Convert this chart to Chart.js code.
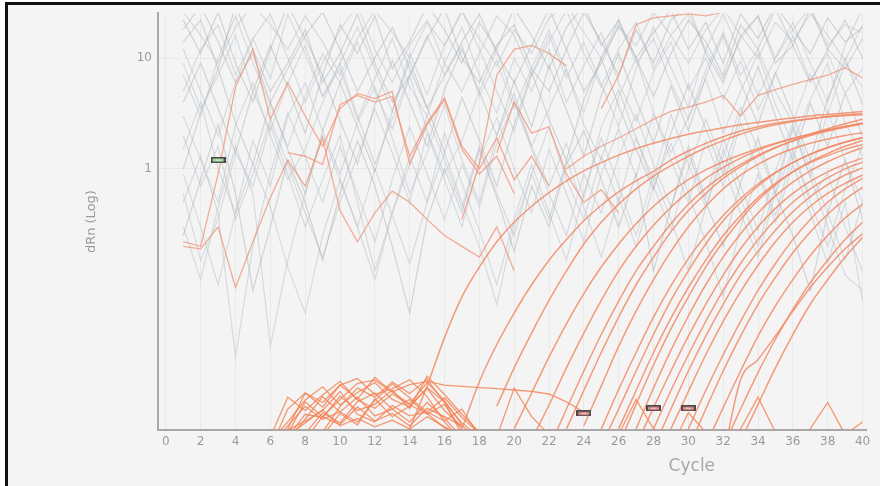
<!DOCTYPE html>
<html>
<head>
<meta charset="utf-8">
<title>Amplification plot</title>
<script src="https://cdn.jsdelivr.net/npm/chart.js@4.4.1/dist/chart.umd.min.js"></script>
<style>
  body { margin: 0; background: #fff; overflow: hidden; }
  #frame {
    position: absolute; left: 5px; top: 2px; width: 900px; height: 520px;
    border-left: 3px solid #111; border-top: 3px solid #111; background: #f4f4f4;
  }
  #plot { position: absolute; left: 0; top: 0; }
</style>
</head>
<body>
<div id="frame"></div>
<canvas id="plot" width="880" height="486"></canvas>
<script>
// tick labels
const xTicks = [0, 2, 4, 6, 8, 10, 12, 14, 16, 18, 20, 22, 24, 26, 28, 30, 32, 34, 36, 38, 40];
const yTicks = [1, 10];

// grey wells (no amplification), one value per cycle 1..40
const gray01 = [14, 22, 8, 30, 12, 5, 9, 18, 6, 11, 25, 9, 4, 7, 15, 28, 10, 6, 13, 20, 8, 5, 12, 26, 14, 7, 18, 9, 22, 30, 11, 6, 16, 24, 9, 13, 28, 12, 8, 15];
const gray02 = [3, 1.2, 0.5, 2.5, 6, 2, 0.8, 1.5, 4, 9, 3, 1.1, 2.8, 7, 2.2, 0.9, 1.8, 5, 12, 4, 1.6, 3.5, 8, 2.5, 1.2, 4.5, 10, 3.2, 1.4, 2.9, 6.5, 2.1, 5, 11, 3.8, 1.7, 4.2, 9, 2.6, 1.3];
const gray03 = [0.6, 0.15, 0.35, 1.4, 0.7, 2.5, 0.9, 0.3, 0.8, 2, 0.5, 0.12, 0.4, 1.1, 3, 1.2, 0.45, 1.6, 0.6, 0.25, 0.9, 2.4, 0.8, 0.35, 1.3, 0.5, 1.9, 0.7, 0.28, 1, 2.8, 1.1, 0.4, 0.16, 0.6, 1.5, 0.55, 0.9, 0.3, 0.12];
const gray04 = [22, 11, 26, 9, 4, 12, 30, 15, 7, 20, 11, 24, 8, 14, 30, 18, 9, 21, 12, 28, 16, 8, 19, 30, 13, 22, 10, 17, 27, 12, 21, 9, 25, 15, 30, 18, 11, 23, 14, 19];
const gray05 = [1.5, 4, 1, 0.4, 1.8, 0.7, 3, 6, 2.2, 0.9, 2.6, 5.5, 1.9, 0.6, 1.4, 3.8, 1.2, 0.5, 2, 4.8, 1.6, 0.7, 1.7, 0.55, 2.4, 5.2, 1.9, 0.8, 3.1, 1.1, 0.45, 1.3, 3.6, 1.5, 0.6, 2.3, 0.85, 3.3, 1.2, 0.5];
const gray06 = [9, 3.5, 7, 16, 5, 2.2, 6, 13, 4.5, 8, 2.8, 6.5, 15, 5.5, 3, 9, 19, 7, 3.2, 10, 5, 12, 4, 8.5, 17, 6, 2.7, 7.5, 14, 5.2, 10, 4.2, 9.5, 3.4, 7.2, 16, 6.3, 11, 4.8, 8];
const gray07 = [0.25, 0.8, 2.5, 0.6, 0.08, 0.3, 1.2, 0.5, 0.15, 0.6, 1.8, 0.7, 0.2, 0.05, 0.35, 1, 0.4, 1.5, 0.55, 0.18, 0.7, 0.3, 1.1, 2.2, 0.8, 0.3, 0.9, 0.12, 0.45, 1.4, 0.5, 0.2, 0.75, 1.9, 0.6, 0.25, 0.08, 0.4, 1.2, 0.35];
const gray08 = [5, 12, 20, 7, 15, 25, 10, 4, 9, 18, 30, 12, 6, 13, 22, 9, 5, 11, 24, 16, 7, 14, 27, 11, 5.5, 12, 21, 8, 16, 25, 12, 6.5, 15, 24, 10, 18, 29, 13, 20, 17];
const gray09 = [2, 0.7, 1.6, 0.35, 0.9, 2.8, 1.1, 0.4, 0.16, 0.5, 1.3, 3.5, 1.4, 0.5, 2.1, 0.8, 0.3, 1.2, 2.9, 1, 0.4, 1.5, 0.6, 0.22, 0.9, 2.3, 0.85, 3.2, 1.2, 0.5, 1.8, 0.7, 2.6, 1, 0.38, 1.4, 0.5, 0.2, 0.65, 1.6];
const gray10 = [18, 30, 14, 6, 11, 4, 8, 16, 26, 12, 5, 10, 19, 8, 3.5, 7, 14, 25, 11, 6, 13, 28, 12, 5, 9, 20, 10, 4.5, 11, 22, 14, 7, 20, 12, 28, 13, 6, 12, 22, 10];
const gray11 = [0.5, 1.3, 0.4, 0.02, 0.2, 0.9, 3.2, 1.3, 0.5, 1.6, 0.6, 0.22, 0.8, 2.4, 0.9, 0.35, 1.1, 0.45, 1.7, 4, 1.5, 0.6, 0.25, 0.9, 0.4, 1.3, 3.1, 1.1, 0.45, 1.6, 0.55, 1.9, 0.7, 0.28, 0.95, 2.6, 1, 0.4, 0.15, 0.5];
const gray12 = [7, 3, 10, 24, 9, 3.8, 1.6, 4.5, 11, 6, 14, 5, 2.3, 6.8, 16, 7, 13, 4.5, 9.5, 3.5, 8, 18, 7.5, 3.2, 10, 22, 9, 15, 6, 2.8, 7.8, 17, 7, 12, 5, 2.6, 7.2, 3.1, 9, 5.5];
const gray13 = [1, 3.2, 8, 2.6, 1.1, 4, 1.5, 0.6, 2.2, 6, 2.4, 0.95, 3.3, 9.5, 3.6, 1.4, 4.4, 1.8, 0.7, 2.5, 7.5, 2.8, 1.2, 4.2, 10, 3.7, 1.5, 0.65, 2.1, 5.8, 2.3, 0.9, 3.1, 8.4, 3, 1.2, 3.9, 1.6, 4.8, 2];
const gray14 = [26, 16, 9, 19, 30, 20, 12, 24, 14, 7, 15, 27, 17, 10, 21, 13, 26, 15, 8.5, 18, 11, 23, 30, 17, 10, 19, 13, 26, 16, 9, 18, 28, 16, 10, 21, 14, 25, 16, 9.5, 20];
const gray15 = [0.9, 0.3, 0.09, 0.4, 1.1, 0.45, 0.13, 0.05, 0.25, 0.8, 0.3, 1, 0.38, 0.14, 0.5, 1.4, 0.5, 0.2, 0.06, 0.3, 0.9, 0.35, 1.2, 0.45, 0.16, 0.55, 0.2, 0.7, 1.7, 0.6, 0.22, 0.07, 0.3, 0.9, 0.33, 1.1, 0.4, 0.14, 0.5, 0.065];
const gray16 = [4, 9, 3.5, 1.4, 5, 13, 5.5, 2.1, 7, 2.7, 1.1, 3.8, 9.5, 4, 1.6, 5.2, 12, 5, 2, 6.2, 2.4, 8.6, 3.4, 1.3, 4.6, 11, 4.2, 1.7, 5.6, 2.2, 6.8, 16, 6, 2.5, 7.4, 3, 1.2, 4.3, 10, 3.8];
const gray17 = [12, 5, 2, 6, 15, 6.5, 25, 11, 4.5, 9, 19, 8, 3.3, 11, 4.7, 13, 27, 12, 5, 2.2, 7, 16, 6.6, 14, 5.8, 2.4, 8, 19, 8.2, 3.6, 12, 25, 11, 4.6, 10, 21, 9, 4, 13, 28];
const gray18 = [0.3, 0.1, 0.45, 1.6, 0.6, 0.025, 0.15, 0.6, 2, 0.8, 0.3, 0.1, 0.4, 1.3, 0.5, 2.1, 0.75, 0.28, 0.09, 0.35, 1.1, 0.4, 0.15, 0.6, 1.9, 0.7, 0.25, 0.9, 0.35, 0.12, 0.45, 1.5, 0.55, 0.2, 0.7, 2.4, 0.85, 0.3, 0.11, 0.08];
const grayTraces = [gray01, gray02, gray03, gray04, gray05, gray06, gray07, gray08, gray09,
                    gray10, gray11, gray12, gray13, gray14, gray15, gray16, gray17, gray18];

// orange wells that stay noisy high up (first cycle, values)
const noisyStart = [1, 1, 7, 17, 19, 23, 25];
const noisyA = [0.22, 0.2, 0.9, 5.5, 12, 2.8, 6, 3, 1.6, 3.5, 4.8, 4.3, 5, 1.1, 2.5, 4.2, 1.5, 0.9, 1.3, 0.6];
const noisyB = [0.2, 0.19, 0.3, 0.085, 0.22, 0.55, 1.2, 0.7, 1.9, 0.42, 0.22, 0.4, 0.63, 0.5, 0.35, 0.25, 0.2, 0.16, 0.3, 0.12];
const noisyC = [1.4, 1.3, 1.1, 3.8, 4.6, 4.0, 4.5, 1.3, 2.6, 4.4, 1.6, 1.0, 1.9, 0.8, 1.3, 0.7];
const noisyD = [0.35, 1.1, 7, 12, 13, 11, 8.5];
const noisyE = [1.4, 4, 2.1, 2.4, 0.9, 0.5, 0.65, 0.4];
const noisyF = [1.0, 1.3, 1.6, 1.9, 2.3, 2.8, 3.3, 3.6, 4.0, 4.6, 3.0, 4.6, 5.2, 5.8, 6.4, 7.0, 8.2, 6.6];
const noisyG = [3.5, 7, 20, 23, 24, 25, 24, 26, 28, 27, 31];
const noisyTraces = [noisyA, noisyB, noisyC, noisyD, noisyE, noisyF, noisyG];

// orange baseline noise at the bottom of the plot
const baseStart = [6, 6, 7, 6, 7, 6, 7, 8, 9, 6, 19, 26, 7, 8, 7, 9];
const base01 = [0.003, 0.0068, 0.0095, 0.0078, 0.0112, 0.0128, 0.0092, 0.0104, 0.0125, 0.0088, 0.0052, 0.0035];
const base02 = [0.0035, 0.0052, 0.0082, 0.0108, 0.0074, 0.0096, 0.0118, 0.0083, 0.0071, 0.0106, 0.0079, 0.004];
const base03 = [0.0038, 0.0061, 0.0057, 0.0089, 0.0066, 0.0075, 0.0101, 0.0069, 0.0134, 0.0092, 0.0061, 0.0042];
const base04 = [0.0032, 0.0048, 0.0072, 0.0055, 0.0064, 0.0087, 0.0059, 0.0068, 0.0052, 0.0078, 0.0056, 0.0038];
const base05 = [0.0041, 0.0079, 0.0058, 0.0049, 0.0071, 0.0053, 0.0062, 0.0048, 0.0069, 0.0058, 0.0048, 0.0036];
const base06 = [0.0034, 0.0044, 0.0053, 0.0066, 0.0098, 0.0061, 0.0052, 0.0073, 0.0059, 0.0064, 0.0086, 0.0057, 0.0041];
const base07 = [0.0039, 0.0051, 0.0067, 0.0048, 0.0056, 0.0047, 0.0054, 0.0045, 0.0058, 0.0047, 0.0039];
const base08 = [0.0036, 0.0058, 0.0083, 0.0116, 0.0124, 0.0097, 0.0113, 0.0121, 0.0112, 0.0109, 0.0106, 0.0104, 0.0101, 0.0098, 0.0093, 0.0079, 0.0064];
const base09 = [0.0042, 0.0072, 0.0105, 0.0087, 0.0119, 0.0094, 0.0126, 0.0078, 0.0051, 0.0038];
const base10 = [0.0038, 0.0087, 0.0066, 0.0091, 0.0121, 0.0082, 0.0069, 0.0093, 0.0074, 0.0062, 0.0046, 0.0037];
const base11 = [0.0038, 0.0105, 0.0058, 0.004];
const base12 = [0.004, 0.0083, 0.0045, 0.003, 0.0063, 0.0042, 0.003, 0.0045, 0.0087, 0.0042, 0.003, 0.0045, 0.0078, 0.004, 0.0052];
const base13 = [0.0045, 0.0095, 0.0071, 0.0112, 0.0084, 0.0131, 0.0097, 0.0076, 0.0118, 0.0081, 0.0049];
const base14 = [0.0041, 0.0063, 0.0051, 0.0079, 0.0095, 0.0068, 0.0083, 0.0061, 0.0075, 0.0044];
const base15 = [0.0036, 0.0055, 0.0088, 0.0064, 0.0052, 0.0081, 0.0115, 0.0086, 0.0064, 0.0053, 0.0068, 0.0039];
const base16 = [0.0039, 0.0062, 0.0049, 0.0084, 0.0058, 0.0072, 0.0104, 0.0066, 0.0047];
const baseTraces = [base01, base02, base03, base04, base05, base06, base07, base08,
                    base09, base10, base11, base12, base13, base14, base15, base16];

// orange amplification curves (first cycle, values up to cycle 40)
const ampStart = [14, 17, 19, 20, 21, 22, 23, 24, 25, 25, 26, 26, 27, 27, 28, 28, 29, 30, 30, 31, 32, 32, 33];
const amp01 = [0.0045, 0.011, 0.03, 0.07, 0.13, 0.22, 0.33, 0.46, 0.61, 0.78, 0.96, 1.14, 1.33, 1.52, 1.7, 1.88, 2.05, 2.2, 2.35, 2.5, 2.63, 2.76, 2.88, 3.0, 3.1, 3.2, 3.3];
const amp02 = [0.0045, 0.012, 0.026, 0.05, 0.09, 0.15, 0.23, 0.34, 0.47, 0.62, 0.78, 0.95, 1.2, 1.45, 1.7, 1.95, 2.2, 2.4, 2.58, 2.72, 2.84, 2.94, 3.02, 3.08];
const amp03 = [0.0072, 0.016, 0.033, 0.065, 0.12, 0.21, 0.33, 0.48, 0.66, 0.86, 1.07, 1.3, 1.55, 1.8, 2.05, 2.3, 2.5, 2.68, 2.84, 2.97, 3.08, 3.16];
const amp04 = [0.0045, 0.0095, 0.02, 0.04, 0.075, 0.13, 0.21, 0.32, 0.46, 0.62, 0.8, 0.98, 1.16, 1.34, 1.52, 1.7, 1.88, 2.05, 2.22, 2.38, 2.55];
const amp05 = [0.0036, 0.0074, 0.016, 0.033, 0.065, 0.12, 0.2, 0.31, 0.45, 0.62, 0.82, 1.03, 1.25, 1.47, 1.68, 1.88, 2.07, 2.25, 2.42, 2.58];
const amp06 = [0.003, 0.0068, 0.015, 0.032, 0.064, 0.12, 0.2, 0.32, 0.48, 0.67, 0.88, 1.1, 1.33, 1.56, 1.78, 2.0, 2.2, 2.4, 2.6];
const amp07 = [0.0045, 0.01, 0.022, 0.046, 0.09, 0.16, 0.27, 0.42, 0.6, 0.82, 1.05, 1.3, 1.55, 1.8, 2.05, 2.3, 2.55, 2.8];
const amp08 = [0.0048, 0.011, 0.025, 0.052, 0.1, 0.18, 0.3, 0.46, 0.66, 0.88, 1.1, 1.32, 1.52, 1.7, 1.86, 2.0, 2.12];
const amp09 = [0.0032, 0.0068, 0.015, 0.032, 0.065, 0.12, 0.21, 0.34, 0.5, 0.7, 0.92, 1.14, 1.36, 1.56, 1.75, 1.92];
const amp10 = [0.0045, 0.0102, 0.022, 0.046, 0.088, 0.155, 0.25, 0.38, 0.54, 0.73, 0.93, 1.14, 1.35, 1.55, 1.74, 1.9];
const amp11 = [0.0045, 0.01, 0.022, 0.045, 0.085, 0.15, 0.25, 0.38, 0.55, 0.74, 0.94, 1.14, 1.32, 1.5, 1.66];
const amp12 = [0.0032, 0.0075, 0.017, 0.036, 0.07, 0.13, 0.22, 0.35, 0.52, 0.72, 0.94, 1.16, 1.38, 1.6, 1.8];
const amp13 = [0.0045, 0.0105, 0.023, 0.047, 0.09, 0.16, 0.26, 0.4, 0.57, 0.76, 0.96, 1.16, 1.36, 1.55];
const amp14 = [0.0032, 0.007, 0.015, 0.031, 0.06, 0.11, 0.19, 0.3, 0.44, 0.6, 0.77, 0.94, 1.1, 1.25];
const amp15 = [0.0045, 0.01, 0.021, 0.042, 0.08, 0.14, 0.23, 0.35, 0.5, 0.66, 0.83, 1.0, 1.15];
const amp16 = [0.003, 0.0068, 0.015, 0.031, 0.06, 0.11, 0.18, 0.28, 0.41, 0.56, 0.72, 0.88, 1.02];
const amp17 = [0.0045, 0.0098, 0.021, 0.042, 0.078, 0.135, 0.22, 0.33, 0.46, 0.6, 0.74, 0.88];
const amp18 = [0.0045, 0.01, 0.021, 0.042, 0.08, 0.14, 0.23, 0.35, 0.5, 0.66, 0.82];
const amp19 = [0.003, 0.0068, 0.015, 0.031, 0.06, 0.105, 0.175, 0.27, 0.39, 0.53, 0.68];
const amp20 = [0.0032, 0.007, 0.015, 0.031, 0.058, 0.1, 0.165, 0.25, 0.36, 0.48];
const amp21 = [0.0031, 0.0068, 0.0145, 0.029, 0.054, 0.094, 0.15, 0.23, 0.33];
const amp22 = [0.0025, 0.0125, 0.019, 0.031, 0.052, 0.085, 0.13, 0.19, 0.26];
const amp23 = [0.0035, 0.0075, 0.016, 0.032, 0.06, 0.1, 0.16, 0.24];
const ampTraces = [amp01, amp02, amp03, amp04, amp05, amp06, amp07, amp08, amp09, amp10, amp11, amp12,
                   amp13, amp14, amp15, amp16, amp17, amp18, amp19, amp20, amp21, amp22, amp23];

// Ct markers
const ctCycle = [3, 24, 28, 30];
const ctLevel = [1.2, 0.0062, 0.0069, 0.0069];
const ctFill = ['#a6dc9c', '#f08c8c', '#f08c8c', '#f08c8c'];

function series(start, vals) {
    return vals.map((v, i) => ({ x: start + i, y: v }));
}

function markerImage(fill) {
    const c = document.createElement('canvas');
    c.width = 15; c.height = 6;
    const g = c.getContext('2d');
    g.fillStyle = '#4a4a4a';
    g.fillRect(0, 0, 15, 6);
    g.fillStyle = fill;
    g.fillRect(2, 1.5, 11, 3);
    g.fillStyle = 'rgba(255,255,255,0.75)';
    g.fillRect(5, 2.5, 5, 1);
    return c;
}

const datasets = [];
grayTraces.forEach((vals, i) => {
    datasets.push({
        data: series(1, vals),
        borderColor: i % 3 === 0 ? 'rgba(160,166,172,0.42)' : 'rgba(182,190,198,0.48)',
        borderWidth: 1.2,
        order: 4
    });
});
noisyTraces.forEach((vals, i) => {
    datasets.push({
        data: series(noisyStart[i], vals),
        borderColor: 'rgba(240,140,110,0.7)',
        borderWidth: 1.3,
        order: 3
    });
});
baseTraces.forEach((vals, i) => {
    datasets.push({
        data: series(baseStart[i], vals),
        borderColor: 'rgba(244,128,80,0.8)',
        borderWidth: 1.3,
        order: 2
    });
});
ampTraces.forEach((vals, i) => {
    datasets.push({
        data: series(ampStart[i], vals),
        borderColor: 'rgba(242,138,102,0.85)',
        borderWidth: 1.5,
        cubicInterpolationMode: 'monotone',
        order: 1
    });
});
datasets.push({
    data: ctCycle.map((c, i) => ({ x: c, y: ctLevel[i] })),
    showLine: false,
    pointRadius: 5,
    pointStyle: ctFill.map(markerImage),
    order: 0
});

const cycleTitle = {
    id: 'cycleTitle',
    afterDraw(chart) {
        const ctx = chart.ctx;
        ctx.save();
        ctx.font = '17px "DejaVu Sans", sans-serif';
        ctx.fillStyle = '#a8a8a8';
        ctx.textAlign = 'center';
        ctx.textBaseline = 'middle';
        ctx.fillText('Cycle', chart.scales.x.getPixelForValue(30.2), 467);
        ctx.restore();
    }
};

Chart.defaults.font.family = '"DejaVu Sans", sans-serif';

new Chart(document.getElementById('plot'), {
    type: 'line',
    data: { datasets: datasets },
    plugins: [cycleTitle],
    options: {
        responsive: false,
        animation: false,
        events: [],
        layout: { padding: { left: 0, top: 12, right: 14, bottom: 0 } },
        elements: { point: { radius: 0 }, line: { tension: 0 } },
        plugins: { legend: { display: false }, tooltip: { enabled: false } },
        scales: {
            x: {
                type: 'linear',
                min: -0.45,
                max: 40.2,
                afterBuildTicks: s => { s.ticks = xTicks.map(v => ({ value: v })); },
                afterFit: s => { s.height = 56; },
                grid: { color: 'rgba(0,0,0,0.045)', drawTicks: false },
                border: { color: '#a9a9a9', width: 2 },
                ticks: { color: '#9a9a9a', font: { size: 12 }, padding: 5, maxRotation: 0, autoSkip: false }
            },
            y: {
                type: 'logarithmic',
                min: 0.0044,
                max: 25.4,
                afterBuildTicks: s => { s.ticks = yTicks.map(v => ({ value: v })); },
                afterFit: s => { s.width = 158; },
                grid: { color: 'rgba(0,0,0,0.045)', drawTicks: false },
                border: { color: '#a9a9a9', width: 2 },
                ticks: { color: '#9a9a9a', font: { size: 12 }, padding: 6, callback: v => String(v) },
                title: { display: true, text: 'dRn (Log)', color: '#9a9a9a', font: { size: 13 }, padding: { top: 84, bottom: 0 } }
            }
        }
    }
});
</script>
</body>
</html>
